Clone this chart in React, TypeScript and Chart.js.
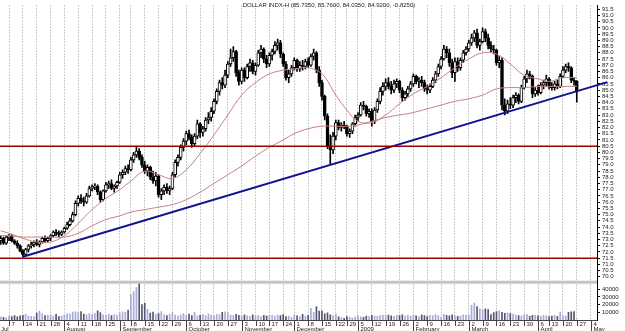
import React, { useEffect, useRef } from "react";
import { Chart, registerables } from "chart.js";

Chart.register(...registerables);

const TITLE = "DOLLAR INDX-H (85.7350, 85.7600, 84.0350, 84.9200, -0.8250)";
const FIRST_MONTH_LABEL = "Jul";
const MONTH_NAMES = ["January", "February", "March", "April", "May", "June", "July", "August", "September", "October", "November", "December"];
const HOLIDAYS = ["2008-07-04", "2008-09-01", "2008-11-27", "2008-12-25", "2009-01-01", "2009-04-10"];

// OHLC, one entry per trading day from 1 Jul 2008 to 27 Apr 2009
const OPEN = [
  72.9, 73.1, 72.7,
  73.2, 73.3, 72.9, 72.7, 72.5,
  72.1, 71.8, 72.2, 72.5, 72.6,
  72.8, 72.6, 72.8, 73.1, 72.9,
  73.1, 73.3, 73.6, 73.5, 73.4,
  73.6, 73.9, 74.2, 74.5, 75.0,
  75.9, 76.3, 76.1, 76.0, 76.5,
  77.1, 77.2, 77.3, 76.8, 76.2,
  76.9, 77.4, 77.5, 77.1, 77.3,
  77.6, 78.2, 78.4, 78.7,
  78.6, 79.4, 79.8, 80.1, 79.6,
  79.0, 78.5, 78.8, 78.0, 77.7,
  78.1, 76.6, 76.9, 77.2, 76.9,
  77.1, 78.2, 79.2, 79.6, 80.4,
  80.9, 81.5, 81.2, 80.7, 81.3,
  82.3, 81.6, 81.9, 82.6, 82.8,
  83.3, 84.1, 84.9, 85.6, 85.4,
  86.2, 87.1, 87.6, 88.1, 86.4,
  85.7, 86.6, 86.0, 86.9, 87.2,
  86.5, 87.0, 88.0, 88.3, 87.5,
  87.1, 87.8, 88.1, 88.6, 88.8,
  87.9, 87.1, 86.0, 86.3,
  86.8, 87.4, 86.7, 87.0, 86.9,
  87.3, 87.0, 87.7, 88.0, 86.6,
  85.6, 84.5, 82.9, 80.5, 80.2,
  81.3, 82.4, 82.0, 82.2,
  82.1, 81.5, 81.7, 82.3,
  82.8, 83.0, 83.8, 83.7, 83.1,
  83.3, 82.5, 83.4, 84.1, 84.9,
  85.3, 85.6, 85.3, 85.0, 85.5,
  85.7, 85.0, 84.4, 84.7, 85.1,
  85.5, 86.1, 85.7, 85.8, 85.6,
  85.1, 85.0, 85.3, 85.8, 86.3,
  86.9, 87.5, 88.3, 88.0, 87.2,
  86.4, 87.3, 86.8, 87.4, 88.0,
  88.3, 88.8, 89.2, 89.6, 88.6,
  88.9, 89.7, 89.2, 88.6, 88.3,
  88.2, 87.2, 87.4, 83.8, 83.3,
  83.9, 83.8, 84.4, 84.6, 84.1,
  85.2, 85.9, 86.3, 86.1, 84.7,
  85.0, 84.8, 85.4, 85.6,
  85.9, 85.3, 85.2, 85.5, 85.3,
  86.1, 86.6, 86.9, 86.8, 85.8,
  85.735,
];
const HIGH = [
  73.3, 73.2, 73.3,
  73.4, 73.4, 73.0, 72.9, 72.6,
  72.2, 72.3, 72.6, 72.8, 72.9,
  73.0, 72.9, 73.2, 73.3, 73.2,
  73.4, 73.7, 73.8, 73.7, 73.7,
  74.0, 74.4, 74.7, 75.2, 76.1,
  76.5, 76.6, 76.4, 76.7, 77.3,
  77.4, 77.5, 77.4, 76.9, 77.0,
  77.6, 77.7, 77.8, 77.4, 77.7,
  78.4, 78.6, 78.9, 79.0,
  79.6, 80.0, 80.5, 80.3, 79.8,
  79.3, 79.0, 78.9, 78.5, 78.4,
  78.2, 77.1, 77.4, 77.5, 77.3,
  78.4, 79.4, 79.8, 80.6, 81.1,
  81.7, 81.8, 81.4, 81.5, 82.6,
  82.4, 82.1, 82.8, 83.2, 83.6,
  84.3, 85.1, 85.8, 86.0, 86.6,
  87.3, 88.3, 88.5, 88.2, 86.6,
  86.8, 86.8, 87.1, 87.5, 87.4,
  87.2, 88.2, 88.6, 88.4, 87.8,
  88.0, 88.3, 88.9, 89.1, 89.0,
  88.0, 87.3, 86.6, 87.0,
  87.6, 87.5, 87.3, 87.4, 87.5,
  87.6, 87.9, 88.3, 88.1, 86.9,
  85.8, 84.6, 83.1, 81.4, 81.6,
  82.6, 82.6, 82.4, 82.5,
  82.2, 81.9, 82.4, 83.0,
  83.2, 84.0, 84.1, 83.8, 83.5,
  83.5, 83.6, 84.3, 85.2, 85.6,
  85.9, 86.0, 85.7, 85.8, 85.9,
  85.8, 85.2, 84.9, 85.3, 85.7,
  86.3, 86.2, 86.0, 86.1, 85.8,
  85.4, 85.5, 86.0, 86.5, 87.1,
  87.7, 88.6, 88.5, 88.3, 87.5,
  87.6, 87.6, 87.6, 88.2, 88.5,
  89.0, 89.5, 89.8, 89.9, 89.1,
  90.0, 89.9, 89.5, 88.9, 88.6,
  88.3, 87.7, 87.6, 84.3, 84.2,
  84.4, 84.6, 84.8, 84.7, 85.4,
  86.1, 86.6, 86.5, 86.2, 85.2,
  85.4, 85.6, 85.8, 86.2,
  86.0, 85.6, 85.7, 85.8, 86.3,
  86.9, 87.1, 87.2, 86.9, 86.0,
  85.76,
];
const LOW = [
  72.6, 72.6, 72.6,
  72.9, 72.8, 72.6, 72.3, 72.0,
  71.6, 71.7, 72.0, 72.3, 72.4,
  72.5, 72.4, 72.7, 72.8, 72.8,
  72.9, 73.2, 73.3, 73.2, 73.3,
  73.5, 73.8, 74.1, 74.4, 74.9,
  75.7, 75.9, 75.7, 75.9, 76.4,
  76.9, 77.0, 76.6, 76.0, 76.1,
  76.8, 77.1, 77.0, 76.8, 77.1,
  77.5, 77.9, 78.2, 78.3,
  78.5, 79.2, 79.6, 79.4, 78.8,
  78.3, 78.1, 77.8, 77.5, 77.3,
  76.4, 76.2, 76.6, 76.7, 76.6,
  77.0, 78.0, 78.9, 79.4, 80.1,
  80.6, 81.0, 80.4, 80.5, 81.1,
  81.2, 81.3, 81.7, 82.3, 82.5,
  83.1, 83.9, 84.6, 85.1, 85.2,
  86.0, 86.9, 87.3, 86.1, 85.4,
  85.5, 85.7, 85.9, 86.5, 86.3,
  86.2, 86.9, 87.6, 87.2, 86.8,
  86.9, 87.4, 87.9, 88.2, 87.6,
  86.9, 85.8, 85.6, 86.1,
  86.6, 86.5, 86.5, 86.6, 86.7,
  86.8, 86.9, 87.4, 86.4, 85.3,
  84.2, 82.6, 80.3, 79.1, 79.9,
  81.0, 81.8, 81.7, 81.9,
  81.3, 81.2, 81.5, 82.1,
  82.5, 82.9, 83.4, 82.9, 82.8,
  82.1, 82.3, 83.2, 83.9, 84.6,
  85.0, 85.1, 84.7, 84.8, 85.2,
  84.8, 84.1, 84.2, 84.5, 84.9,
  85.3, 85.5, 85.2, 85.3, 84.9,
  84.7, 84.8, 85.2, 85.6, 86.1,
  86.7, 87.4, 87.6, 86.9, 86.0,
  85.7, 86.5, 86.6, 87.2, 87.8,
  88.1, 88.6, 88.9, 88.4, 88.2,
  88.8, 88.9, 88.3, 88.0, 87.9,
  87.0, 86.8, 83.4, 83.0, 83.1,
  83.5, 83.6, 84.0, 83.9, 84.0,
  85.1, 85.6, 85.9, 84.4, 84.5,
  84.6, 84.7, 85.1, 85.3,
  85.1, 85.0, 85.0, 85.1, 85.2,
  86.0, 86.4, 86.5, 85.6, 85.4,
  84.035,
];
const CLOSE = [
  73.1, 72.7, 73.2,
  73.3, 72.9, 72.7, 72.5, 72.1,
  71.8, 72.2, 72.5, 72.6, 72.8,
  72.6, 72.8, 73.1, 72.9, 73.1,
  73.3, 73.6, 73.5, 73.4, 73.6,
  73.9, 74.2, 74.5, 75.0, 75.9,
  76.3, 76.1, 76.0, 76.5, 77.1,
  77.2, 77.3, 76.8, 76.2, 76.9,
  77.4, 77.5, 77.1, 77.3, 77.6,
  78.2, 78.4, 78.7, 78.6,
  79.4, 79.8, 80.1, 79.6, 79.0,
  78.5, 78.8, 78.0, 77.7, 78.1,
  76.6, 76.9, 77.2, 76.9, 77.1,
  78.2, 79.2, 79.6, 80.4, 80.9,
  81.5, 81.2, 80.7, 81.3, 82.3,
  81.6, 81.9, 82.6, 82.8, 83.3,
  84.1, 84.9, 85.6, 85.4, 86.2,
  87.1, 87.6, 88.1, 86.4, 85.7,
  86.6, 86.0, 86.9, 87.2, 86.5,
  87.0, 88.0, 88.3, 87.5, 87.1,
  87.8, 88.1, 88.6, 88.8, 87.9,
  87.1, 86.0, 86.3, 86.8,
  87.4, 86.7, 87.0, 86.9, 87.3,
  87.0, 87.7, 88.0, 86.6, 85.6,
  84.5, 82.9, 80.5, 80.2, 81.3,
  82.4, 82.0, 82.2, 82.1,
  81.5, 81.7, 82.3, 82.8,
  83.0, 83.8, 83.7, 83.1, 83.3,
  82.5, 83.4, 84.1, 84.9, 85.3,
  85.6, 85.3, 85.0, 85.5, 85.7,
  85.0, 84.4, 84.7, 85.1, 85.5,
  86.1, 85.7, 85.8, 85.6, 85.1,
  85.0, 85.3, 85.8, 86.3, 86.9,
  87.5, 88.3, 88.0, 87.2, 86.4,
  87.3, 86.8, 87.4, 88.0, 88.3,
  88.8, 89.2, 89.6, 88.6, 88.9,
  89.7, 89.2, 88.6, 88.3, 88.2,
  87.2, 87.4, 83.8, 83.3, 83.9,
  83.8, 84.4, 84.6, 84.1, 85.2,
  85.9, 86.3, 86.1, 84.7, 85.0,
  84.8, 85.4, 85.6, 85.9,
  85.3, 85.2, 85.5, 85.3, 86.1,
  86.6, 86.9, 86.8, 85.8, 85.745,
  84.92,
];
const VOLUME = [
  4200, 3600, 2800,
  5000, 4600, 5800, 4200, 5400,
  6200, 7400, 5200, 4800, 4400,
  9000, 11500, 8200, 5600, 6000,
  6400, 5200, 7200, 4600, 5000,
  6800, 8400, 7600, 10200, 11000,
  9200, 10800, 7600, 6800, 8200,
  7400, 8800, 12000, 9600, 6600,
  6000, 7600, 5800, 7000, 6400,
  9000, 10600, 9800, 13000,
  33000, 37000, 42000, 48000, 20000,
  22000, 14000, 9000, 10200, 7600,
  8400, 11000, 6800, 5800, 7200,
  9400, 6400, 5200, 6600, 8200,
  5600, 7600, 5800, 9800, 5400,
  6200, 7000, 5600, 8000, 6200,
  5400, 7200, 6800, 10000, 10600,
  9600, 6400, 5800, 7400, 6000,
  5200, 6600, 5400, 4800, 6800,
  5000, 5800, 4400, 6200, 5200,
  5600, 6000, 4800, 6400, 5800,
  7000, 4600, 5200, 3000,
  6600, 5400, 4600, 7200, 5000,
  6000, 15000, 10000, 17500, 11500,
  12000, 8000, 9200, 6800, 5600,
  7400, 4200, 3000, 2200,
  4600, 3600, 2400, 3800,
  5400, 4200, 3600, 5000, 4400,
  6000, 5200, 4800, 5600, 6200,
  5800, 6400, 5400, 4800, 6200,
  5600, 6800, 5200, 6000, 5000,
  6200, 5400, 4600, 6800, 5800,
  4400, 6200, 5800, 7000, 5600,
  3800, 7200, 6000, 5400, 6600,
  5800, 4800, 5200, 6800, 6000,
  6600, 19000, 22000, 17500, 14500,
  13000, 14500, 13500, 7000, 9600,
  11000, 12000, 9800, 8600, 9000,
  8400, 7800, 6400, 5600, 5000,
  6800, 7400, 4800, 6200, 6000,
  5400, 4800, 6000, 5600,
  4400, 5200, 6000, 4800, 10400,
  6000, 5000, 10000, 10600, 10800,
  0,
];

// moving averages: first value at 1 Jul, then one per week (Mondays 7 Jul .. 27 Apr)
const MA_FAST = [
  73.7, 73.5, 73.1, 72.8, 72.8, 73.3, 74.3, 75.4, 76.3, 77.0, 77.7, 78.5, 78.2, 77.9,
  78.6, 79.9, 81.4, 83.0, 84.6, 85.6, 86.3, 86.6, 86.7, 86.8, 86.3, 84.6, 83.4, 82.5,
  82.4, 83.0, 83.9, 84.7, 85.3, 86.0, 86.8, 87.5, 88.0, 87.9, 87.1, 86.2, 85.9, 85.7,
  86.0, 86.0,
];
const MA_SLOW = [
  73.3, 73.3, 73.2, 73.2, 73.2, 73.2, 73.5, 74.1, 74.6, 74.9, 75.2, 75.4, 75.6, 75.8,
  76.2, 76.8, 77.5, 78.2, 78.9, 79.7, 80.4, 81.0, 81.5, 81.9, 82.1, 82.1, 82.1, 82.2,
  82.5, 82.8, 83.0, 83.2, 83.5, 83.8, 84.1, 84.3, 84.6, 85.1, 85.2, 85.2, 85.3, 85.3,
  85.3, 85.3,
];

const LEVELS = [80.5, 71.5];
const TREND_X = [8, 219];
const TREND_Y = [71.62, 85.64];
const VOLUME_TICKS = [10000, 20000, 30000, 40000];

const X_MIN = -0.25;
const X_MAX = 215.3;
const PRICE_MIN = 69.69;
const PRICE_MAX = 91.79;
const VOL_MAX = 51000;

const DAY = 86400000;

function buildTradingDays() {
  const out: number[] = [];
  const start = Date.UTC(2008, 6, 1);
  const end = Date.UTC(2009, 4, 8);
  for (let t = start; t <= end; t += DAY) {
    const d = new Date(t);
    const wd = d.getUTCDay();
    if (wd === 0 || wd === 6) continue;
    if (HOLIDAYS.includes(d.toISOString().slice(0, 10))) continue;
    out.push(t);
  }
  return out;
}

function buildWeekTicks(days: number[]) {
  const out: { x: number; day: string; month: string }[] = [];
  let prevMonth = 6;
  const start = Date.UTC(2008, 6, 7);
  const end = Date.UTC(2009, 4, 4);
  for (let t = start; t <= end; t += 7 * DAY) {
    const idx = days.findIndex((d) => d >= t);
    const d = new Date(t);
    const m = d.getUTCMonth();
    const month = m !== prevMonth ? (m === 0 ? String(d.getUTCFullYear()) : MONTH_NAMES[m]) : "";
    prevMonth = m;
    out.push({ x: idx, day: String(d.getUTCDate()), month });
  }
  return out;
}

const FONT = '"Liberation Sans", Arial, sans-serif';

export default function App() {
  const ref = useRef<HTMLCanvasElement>(null);

  useEffect(() => {
    const days = buildTradingDays();
    const weekTicks = buildWeekTicks(days);

    const bodies: any[] = [];
    const wicks: any[] = [];
    const vols: any[] = [];
    const bodyColors: string[] = [];
    const volColors: string[] = [];
    for (let i = 0; i < CLOSE.length; i++) {
      const o = OPEN[i];
      const c = CLOSE[i];
      const up = c >= o;
      let lo = Math.min(o, c);
      let hi = Math.max(o, c);
      if (hi - lo < 0.05) {
        lo -= 0.025;
        hi += 0.025;
      }
      bodies.push({ x: i, y: [lo, hi] });
      bodyColors.push(up ? "#ffffff" : "#000000");
      wicks.push({ x: i, y: [LOW[i], HIGH[i]] });
      vols.push({ x: i, y: VOLUME[i] });
      volColors.push(up ? "#a9abd6" : "#55566f");
    }

    const maX = [0, ...weekTicks.map((t) => t.x)];
    const fast = MA_FAST.map((v, k) => ({ x: maX[k], y: v }));
    const slow = MA_SLOW.map((v, k) => ({ x: maX[k], y: v }));

    const decor = {
      id: "decor",
      afterDatasetsDraw(chart: any) {
        const { ctx, chartArea, scales } = chart;
        ctx.save();
        ctx.fillStyle = "#c4c4c4";
        ctx.fillRect(chartArea.left, scales.vol.top, chartArea.right - chartArea.left, 3);
        ctx.restore();
      },
      afterDraw(chart: any) {
        const { ctx, chartArea, scales } = chart;
        const xs = scales.x;
        const bottom = chartArea.bottom;
        ctx.save();
        ctx.strokeStyle = "#444";
        ctx.lineWidth = 1;
        ctx.beginPath();
        ctx.moveTo(chartArea.left, bottom + 0.5);
        ctx.lineTo(chartArea.right, bottom + 0.5);
        ctx.stroke();
        ctx.font = `6px ${FONT}`;
        ctx.fillStyle = "#222";
        ctx.textAlign = "left";
        ctx.textBaseline = "alphabetic";
        for (const t of weekTicks) {
          const px = Math.round(xs.getPixelForValue(t.x)) + 0.5;
          ctx.beginPath();
          ctx.moveTo(px, bottom);
          ctx.lineTo(px, bottom + (t.month ? 11 : 6));
          ctx.stroke();
          ctx.fillText(t.day, px + 2, bottom + 6);
          if (t.month) ctx.fillText(t.month, px + 2, bottom + 11);
        }
        ctx.fillText(FIRST_MONTH_LABEL, chartArea.left + 1, bottom + 11);
        ctx.textAlign = "center";
        ctx.fillText(TITLE, 329, 7);
        ctx.restore();
      },
    };

    const chart = new Chart(ref.current as HTMLCanvasElement, {
      type: "bar",
      data: {
        datasets: [
          ...LEVELS.map((lv) => ({
            type: "line",
            data: [
              { x: X_MIN, y: lv },
              { x: X_MAX, y: lv },
            ],
            borderColor: "#990000",
            borderWidth: 1.5,
            pointRadius: 0,
            yAxisID: "y",
            order: 0,
          })),
          {
            type: "line",
            data: TREND_X.map((x, k) => ({ x, y: TREND_Y[k] })),
            borderColor: "#12128c",
            borderWidth: 2,
            pointRadius: 0,
            yAxisID: "y",
            clip: false,
            order: 0,
          },
          {
            type: "line",
            data: fast,
            borderColor: "#c98080",
            borderWidth: 1,
            pointRadius: 0,
            tension: 0.4,
            yAxisID: "y",
            order: 1,
          },
          {
            type: "line",
            data: slow,
            borderColor: "#c98080",
            borderWidth: 1,
            pointRadius: 0,
            tension: 0.4,
            yAxisID: "y",
            order: 1,
          },
          {
            type: "bar",
            data: bodies,
            backgroundColor: bodyColors,
            borderColor: "#000",
            borderWidth: 1,
            borderSkipped: false,
            barThickness: 3,
            grouped: false,
            yAxisID: "y",
            order: 2,
          },
          {
            type: "bar",
            data: wicks,
            backgroundColor: "#000",
            borderWidth: 0,
            barThickness: 1,
            grouped: false,
            yAxisID: "y",
            order: 3,
          },
          {
            type: "bar",
            data: vols,
            backgroundColor: volColors,
            borderWidth: 0,
            barThickness: 1,
            grouped: false,
            yAxisID: "vol",
            order: 4,
          },
        ] as any,
      },
      options: {
        animation: false,
        responsive: false,
        devicePixelRatio: 1,
        layout: { padding: 0 },
        plugins: {
          legend: { display: false },
          tooltip: { enabled: false },
        },
        scales: {
          x: {
            type: "linear",
            min: X_MIN,
            max: X_MAX,
            offset: false,
            afterBuildTicks: (s: any) => {
              s.ticks = weekTicks.map((t) => ({ value: t.x }));
            },
            ticks: { display: false },
            grid: { color: "#9a9a9a", drawTicks: false, offset: false, lineWidth: 1 },
            border: { display: false, dash: [1, 2] },
            afterFit: (s: any) => {
              s.height = 11;
            },
          },
          y: {
            type: "linear",
            position: "right",
            stack: "main",
            stackWeight: 280,
            min: PRICE_MIN,
            max: PRICE_MAX,
            ticks: {
              stepSize: 0.5,
              includeBounds: false,
              autoSkip: false,
              font: { size: 6, family: FONT },
              color: "#222",
              padding: 2,
              callback: (v: any) => Number(v).toFixed(1),
            },
            grid: { drawOnChartArea: false, tickLength: 3, color: "#000" },
            border: { color: "#000", width: 1 },
            afterFit: (s: any) => {
              s.width = 28;
            },
          },
          vol: {
            type: "linear",
            position: "right",
            stack: "main",
            stackWeight: 40,
            min: 0,
            max: VOL_MAX,
            afterBuildTicks: (s: any) => {
              s.ticks = VOLUME_TICKS.map((v) => ({ value: v }));
            },
            ticks: {
              autoSkip: false,
              font: { size: 6, family: FONT },
              color: "#222",
              padding: 2,
              callback: (v: any) => String(v),
            },
            grid: { drawOnChartArea: false, tickLength: 3, color: "#000" },
            border: { color: "#000", width: 1 },
            afterFit: (s: any) => {
              s.width = 28;
            },
          },
        },
      } as any,
      plugins: [decor],
    });
    return () => chart.destroy();
  }, []);

  return (
    <div style={{ position: "absolute", left: 0, top: 0, width: 625, height: 331, background: "#fff" }}>
      <canvas ref={ref} width={625} height={331} style={{ display: "block" }} />
    </div>
  );
}
